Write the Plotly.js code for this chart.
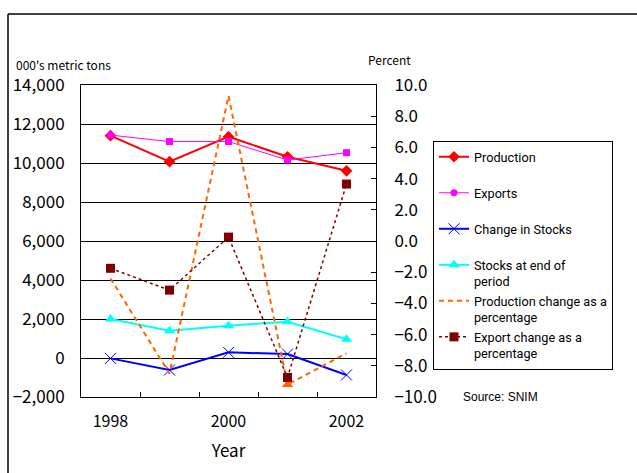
<!DOCTYPE html>
<html>
<head>
<meta charset="utf-8">
<script src="https://cdn.plot.ly/plotly-3.0.1.min.js"></script>
<style>html,body{margin:0;padding:0;background:#fff;}#chart{width:637px;height:473px;}</style>
</head>
<body>
<div id="chart"></div>
<script>
// ---- data ----
const years = [1998, 1999, 2000, 2001, 2002];
const production = [11400, 10070, 11350, 10320, 9600];
const exportsT = [11430, 11100, 11100, 10150, 10530];
const changeInStocks = [-20, -615, 290, 200, -870];
const stocksEnd = [2000, 1400, 1660, 1860, 960];
const productionChangePct = [-2.4, -8.5, 9.3, -9.2, -7.2];
const exportChangePct = [-1.75, -3.15, 0.25, -8.75, 3.65];
const xTickVals = [1998, 2000, 2002];
const xTickLabels = ['1998', '2000', '2002'];
const seriesNames = ['Production', 'Exports', 'Change in Stocks', 'Stocks at end of<br>period',
  'Production change as a<br>percentage', 'Export change as a<br>percentage'];

const FONT = '"Noto Sans CJK JP", "Noto Sans", sans-serif';
const LFONT = 'Roboto, "Liberation Sans", sans-serif';
const NB = '<br>\u00a0';

const traces = [
  {x: years, y: production, name: seriesNames[0] + NB, type: 'scatter', mode: 'lines+markers',
   line: {color: '#FF0000', width: 2}, marker: {symbol: 'diamond', size: 9, color: '#FF0000'}, legendgroup: 'a'},
  {x: years, y: exportsT, name: seriesNames[1] + NB, type: 'scatter', mode: 'lines+markers',
   line: {color: '#FF00FF', width: 1}, marker: {symbol: ['circle', 'square', 'square', 'square', 'square'], size: 7, color: '#FF00FF'}, legendgroup: 'b'},
  {x: years, y: changeInStocks, name: seriesNames[2] + NB, type: 'scatter', mode: 'lines+markers',
   line: {color: '#0000FF', width: 2}, marker: {symbol: 'x-thin', size: 11, color: '#0000FF', line: {color: '#0000FF', width: 1}}, legendgroup: 'c'},
  {x: years, y: stocksEnd, name: seriesNames[3], type: 'scatter', mode: 'lines+markers',
   line: {color: '#00FFFF', width: 2}, marker: {symbol: 'triangle-up', size: 10, color: '#00FFFF'}, legendgroup: 'd'},
  {x: years, y: productionChangePct, name: seriesNames[4], type: 'scatter', mode: 'lines', yaxis: 'y2',
   line: {color: '#FF6600', width: 2, dash: '5px,4px'}, legendgroup: 'e'},
  {x: [years[3]], y: [productionChangePct[3]], type: 'scatter', mode: 'markers', yaxis: 'y2', showlegend: false,
   marker: {symbol: 'triangle-up', size: 10, color: '#FF6600'}, hoverinfo: 'skip'},
  {x: years, y: exportChangePct, name: seriesNames[5], type: 'scatter', mode: 'lines+markers', yaxis: 'y2',
   line: {color: '#800000', width: 1.5, dash: 'dot'}, marker: {symbol: 'square', size: 9, color: '#800000'}, legendgroup: 'f'}
];

const X0 = 81, X1 = 376, Y0 = 85, Y1 = 397;
const px = v => (v - X0) / (X1 - X0);
const py = v => (Y1 - v) / (Y1 - Y0);

const layout = {
  width: 637, height: 473,
  margin: {l: X0, r: 637 - X1, t: Y0, b: 473 - Y1, autoexpand: false},
  paper_bgcolor: '#fff', plot_bgcolor: '#fff',
  font: {family: FONT, color: '#000', size: 14},
  showlegend: true,
  xaxis: {
    type: 'linear', range: [years[0] - 0.5, years[years.length - 1] + 0.5],
    tickvals: xTickVals, ticktext: xTickLabels, ticks: '', showgrid: false, zeroline: false,
    showline: true, linecolor: '#000', linewidth: 1, mirror: true,
    tickfont: {family: FONT, size: 16}, ticklabelstandoff: 10,
    minor: {tickvals: years.slice(0, -1).map(v => v + 0.5), ticks: 'inside', ticklen: 5, tickcolor: '#000', showgrid: false},
    title: {text: 'Year', font: {family: FONT, size: 17}, standoff: 13}
  },
  yaxis: {
    range: [-2000, 14000], dtick: 2000, tick0: 0, tickformat: ',d',
    showgrid: true, gridcolor: '#000', gridwidth: 1, zeroline: false,
    showline: true, linecolor: '#000', linewidth: 1, ticks: '',
    tickfont: {family: FONT, size: 17}, ticklabelstandoff: 12
  },
  yaxis2: {
    overlaying: 'y', side: 'right', range: [-10, 10], dtick: 2, tick0: 0, tickformat: '.1f',
    showgrid: false, zeroline: false, showline: true, linecolor: '#000', linewidth: 1,
    ticks: 'inside', ticklen: 5, tickcolor: '#000',
    tickfont: {family: FONT, size: 17}, ticklabelstandoff: 14
  },
  legend: {
    x: px(433), y: py(141), xanchor: 'left', yanchor: 'top',
    bgcolor: '#fff', bordercolor: '#000', borderwidth: 1,
    font: {family: LFONT, size: 12.7}, valign: 'top', traceorder: 'grouped', tracegroupgap: 0
  },
  annotations: [
    {text: "000's metric tons", xref: 'paper', yref: 'paper', x: px(14), y: py(64), xanchor: 'left', yanchor: 'middle', showarrow: false, font: {family: FONT, size: 12}},
    {text: 'Percent', xref: 'paper', yref: 'paper', x: px(366), y: py(59), xanchor: 'left', yanchor: 'middle', showarrow: false, font: {family: FONT, size: 12}},
    {text: 'Source: SNIM', xref: 'paper', yref: 'paper', x: px(461), y: py(397), xanchor: 'left', yanchor: 'middle', showarrow: false, font: {family: 'Liberation Sans, Arial, sans-serif', size: 12}}
  ],
  shapes: [
    {type: 'line', xref: 'paper', yref: 'paper', x0: px(8), x1: px(8), y0: py(14), y1: py(480), line: {color: '#000', width: 1.5}},
    {type: 'line', xref: 'paper', yref: 'paper', x0: px(8), x1: px(640), y0: py(14), y1: py(14), line: {color: '#000', width: 1.5}}
  ]
};

Plotly.newPlot('chart', traces, layout, {displayModeBar: false, staticPlot: true});
</script>
</body>
</html>
